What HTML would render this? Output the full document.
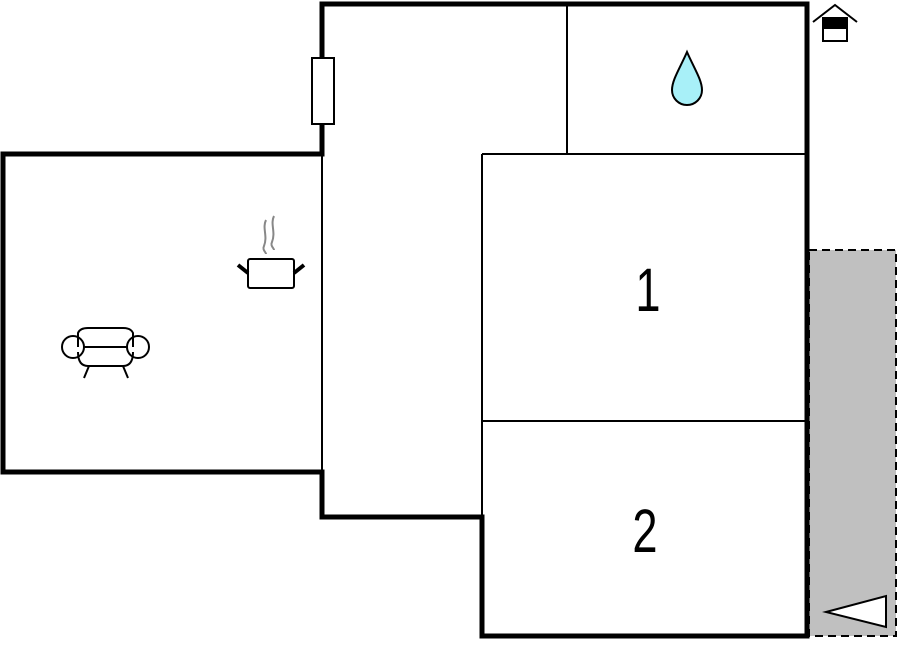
<!DOCTYPE html>
<html><head><meta charset="utf-8"><style>html,body{margin:0;padding:0;background:#fff}svg{display:block}</style></head>
<body>
<svg width="905" height="652" viewBox="0 0 905 652" xmlns="http://www.w3.org/2000/svg">
<rect x="809" y="250" width="87" height="386" fill="#c0c0c0" stroke="#000" stroke-width="2" stroke-dasharray="8,5"/>
<polygon points="826,612 886,596 886,627" fill="#fff" stroke="#000" stroke-width="2"/>
<g stroke="#000" stroke-width="2" fill="none">
<line x1="322" y1="154" x2="322" y2="472"/>
<line x1="567" y1="4" x2="567" y2="154"/>
<line x1="482" y1="154" x2="807" y2="154"/>
<line x1="482" y1="154" x2="482" y2="517"/>
<line x1="482" y1="421" x2="807" y2="421"/>
</g>
<polyline points="322,58 322,4 807,4 807,636 482,636 482,517 322,517 322,472 3,472 3,154 322,154 322,124" fill="none" stroke="#000" stroke-width="5"/>
<rect x="312" y="58" width="22" height="66" fill="#fff" stroke="#000" stroke-width="2"/>
<path d="M687,52 C680,68 672,80 672,90 A15,15 0 0 0 702,90 C702,80 694,68 687,52 Z" fill="#a8f0f8" stroke="#000" stroke-width="2"/>
<g stroke="#000" stroke-width="2" fill="none">
<polyline points="813,22 835,5 857,22"/>
<rect x="823" y="18" width="24" height="23" fill="#fff"/>
</g>
<rect x="823" y="18" width="24" height="11" fill="#000"/>
<g stroke="#888" stroke-width="2" fill="none">
<path d="M266,220 C262,228 268,236 264,246 C262,250 266,252 266,254"/>
<path d="M274,216 C270,224 276,232 272,242 C270,246 274,248 274,250"/>
</g>
<g stroke="#000" stroke-width="2" fill="none">
<rect x="248" y="259" width="46" height="29" rx="2"/>
<line x1="238" y1="265" x2="248" y2="273" stroke-width="4"/>
<line x1="304" y1="265" x2="294" y2="273" stroke-width="4"/>
<path d="M78,347 L78,333 Q80,328 88,328 L123,328 Q131,328 133,333 L133,347"/>
<path d="M78,352 Q78,366 88,366 L123,366 Q133,366 133,352"/>
<circle cx="73" cy="347" r="11"/>
<circle cx="138" cy="347" r="11"/>
<line x1="84" y1="347" x2="127" y2="347"/>
<line x1="89" y1="366" x2="84" y2="378"/>
<line x1="123" y1="366" x2="128" y2="378"/>
</g>
<text transform="translate(648,311) scale(0.78,1.05)" font-family="Liberation Sans, sans-serif" font-size="58" text-anchor="middle">1</text>
<text transform="translate(645,552) scale(0.78,1.05)" font-family="Liberation Sans, sans-serif" font-size="58" text-anchor="middle">2</text>
</svg>
</body></html>
